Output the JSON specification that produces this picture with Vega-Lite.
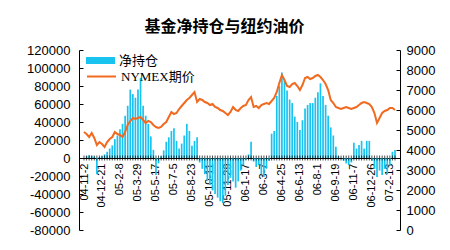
{
"$schema": "https://vega.github.io/schema/vega-lite/v6.json",
"width": 321, "height": 180,
"autosize": {"type": "none"},
"padding": {"left": 79, "top": 50, "right": 50, "bottom": 20},
"background": "white",
"title": {"text": "基金净持仓与纽约油价", "font": "Noto Sans CJK SC", "fontSize": 16, "fontWeight": "bold", "color": "black", "anchor": "middle", "dx": -15, "offset": 9},
"config": {"view": {"stroke": null}, "axis": {"grid": false, "labelFont": "Liberation Sans", "labelColor": "black", "domainColor": "black", "tickColor": "black", "labelFontSize": 13, "title": null, "labelOverlap": false}},
"data": {"values": [
{"date":"2004-11-02","net":0,"price":4900},
{"date":"2004-11-09","net":2000,"price":4800},
{"date":"2004-11-16","net":3000,"price":4650},
{"date":"2004-11-23","net":2500,"price":4850},
{"date":"2004-11-30","net":1500,"price":4600},
{"date":"2004-12-07","net":-18000,"price":4250},
{"date":"2004-12-14","net":1000,"price":4400},
{"date":"2004-12-21","net":2000,"price":4300},
{"date":"2004-12-28","net":4000,"price":4150},
{"date":"2005-01-04","net":7000,"price":4400},
{"date":"2005-01-11","net":10500,"price":4550},
{"date":"2005-01-18","net":14000,"price":4650},
{"date":"2005-01-25","net":21000,"price":4900},
{"date":"2005-02-01","net":25000,"price":4800},
{"date":"2005-02-08","net":32000,"price":4750},
{"date":"2005-02-15","net":38000,"price":4650},
{"date":"2005-02-22","net":47000,"price":4900},
{"date":"2005-03-01","net":58000,"price":5250},
{"date":"2005-03-08","net":76000,"price":5450},
{"date":"2005-03-15","net":71000,"price":5600},
{"date":"2005-03-22","net":67000,"price":5550},
{"date":"2005-03-29","net":76000,"price":5600},
{"date":"2005-04-05","net":89000,"price":5650},
{"date":"2005-04-12","net":58000,"price":5500},
{"date":"2005-04-19","net":47000,"price":5350},
{"date":"2005-04-26","net":38000,"price":5450},
{"date":"2005-05-03","net":24000,"price":5400},
{"date":"2005-05-10","net":9000,"price":5250},
{"date":"2005-05-17","net":-19000,"price":5150},
{"date":"2005-05-24","net":-6000,"price":5100},
{"date":"2005-05-31","net":2000,"price":5150},
{"date":"2005-06-07","net":8500,"price":5300},
{"date":"2005-06-14","net":18000,"price":5400},
{"date":"2005-06-21","net":23000,"price":5650},
{"date":"2005-06-28","net":30000,"price":5900},
{"date":"2005-07-05","net":33000,"price":5800},
{"date":"2005-07-12","net":19000,"price":5850},
{"date":"2005-07-19","net":10500,"price":6050},
{"date":"2005-07-26","net":16000,"price":6200},
{"date":"2005-08-02","net":25000,"price":6350},
{"date":"2005-08-09","net":38000,"price":6500},
{"date":"2005-08-16","net":30000,"price":6600},
{"date":"2005-08-23","net":13500,"price":6750},
{"date":"2005-08-30","net":19000,"price":6900},
{"date":"2005-09-06","net":23000,"price":6400},
{"date":"2005-09-13","net":-5000,"price":6550},
{"date":"2005-09-20","net":-12000,"price":6500},
{"date":"2005-09-27","net":-18000,"price":6400},
{"date":"2005-10-04","net":-25000,"price":6350},
{"date":"2005-10-11","net":-30000,"price":6250},
{"date":"2005-10-18","net":-36000,"price":6300},
{"date":"2005-10-25","net":-40000,"price":6150},
{"date":"2005-11-01","net":-44000,"price":6100},
{"date":"2005-11-08","net":-48000,"price":6000},
{"date":"2005-11-15","net":-50000,"price":5950},
{"date":"2005-11-22","net":-42000,"price":5850},
{"date":"2005-11-29","net":-30000,"price":5750},
{"date":"2005-12-06","net":-22000,"price":5900},
{"date":"2005-12-13","net":-26000,"price":6150},
{"date":"2005-12-20","net":-33000,"price":6000},
{"date":"2005-12-27","net":-26000,"price":5950},
{"date":"2006-01-03","net":-14000,"price":6100},
{"date":"2006-01-10","net":-8000,"price":6200},
{"date":"2006-01-17","net":-2000,"price":6250},
{"date":"2006-01-24","net":4000,"price":6500},
{"date":"2006-01-31","net":18000,"price":6650},
{"date":"2006-02-07","net":-4000,"price":6150},
{"date":"2006-02-14","net":-10000,"price":6200},
{"date":"2006-02-21","net":-8000,"price":6100},
{"date":"2006-02-28","net":-18000,"price":6250},
{"date":"2006-03-07","net":-21000,"price":6300},
{"date":"2006-03-14","net":-12000,"price":6350},
{"date":"2006-03-21","net":-3000,"price":6300},
{"date":"2006-03-28","net":27000,"price":6450},
{"date":"2006-04-04","net":30000,"price":6600},
{"date":"2006-04-11","net":69000,"price":6900},
{"date":"2006-04-18","net":80000,"price":7350},
{"date":"2006-04-25","net":95000,"price":7750},
{"date":"2006-05-02","net":86000,"price":7500},
{"date":"2006-05-09","net":75000,"price":7200},
{"date":"2006-05-16","net":65000,"price":7150},
{"date":"2006-05-23","net":61000,"price":7300},
{"date":"2006-05-30","net":46000,"price":7350},
{"date":"2006-06-06","net":40000,"price":7200},
{"date":"2006-06-13","net":31000,"price":7000},
{"date":"2006-06-20","net":42000,"price":7250},
{"date":"2006-06-27","net":55000,"price":7600},
{"date":"2006-07-04","net":59000,"price":7650},
{"date":"2006-07-11","net":61000,"price":7550},
{"date":"2006-07-18","net":61000,"price":7600},
{"date":"2006-07-25","net":67000,"price":7700},
{"date":"2006-08-01","net":73000,"price":7750},
{"date":"2006-08-08","net":83000,"price":7650},
{"date":"2006-08-15","net":69000,"price":7500},
{"date":"2006-08-22","net":59000,"price":7300},
{"date":"2006-08-29","net":47000,"price":7000},
{"date":"2006-09-05","net":34000,"price":6500},
{"date":"2006-09-12","net":25000,"price":6350},
{"date":"2006-09-19","net":12500,"price":6150},
{"date":"2006-09-26","net":2000,"price":6100},
{"date":"2006-10-03","net":0,"price":6050},
{"date":"2006-10-10","net":-3000,"price":6100},
{"date":"2006-10-17","net":-6000,"price":6150},
{"date":"2006-10-24","net":-8000,"price":6100},
{"date":"2006-10-31","net":-5000,"price":6050},
{"date":"2006-11-07","net":17000,"price":6100},
{"date":"2006-11-14","net":10500,"price":6150},
{"date":"2006-11-21","net":14500,"price":6250},
{"date":"2006-11-28","net":19000,"price":6350},
{"date":"2006-12-05","net":10500,"price":6400},
{"date":"2006-12-12","net":19000,"price":6350},
{"date":"2006-12-19","net":19000,"price":6300},
{"date":"2006-12-26","net":-3000,"price":6150},
{"date":"2007-01-02","net":-12000,"price":5850},
{"date":"2007-01-09","net":-21000,"price":5350},
{"date":"2007-01-16","net":-14000,"price":5600},
{"date":"2007-01-23","net":-19000,"price":5850},
{"date":"2007-01-30","net":-12000,"price":5950},
{"date":"2007-02-06","net":-18000,"price":6000},
{"date":"2007-02-13","net":-8000,"price":6100},
{"date":"2007-02-20","net":7000,"price":6100},
{"date":"2007-02-27","net":9000,"price":6000}
]},
"encoding": {
  "x": {"field": "date", "type": "temporal",
    "scale": {"type": "utc", "nice": false, "domain": [{"year":2004,"month":11,"date":2,"utc":true},{"year":2007,"month":2,"date":27,"utc":true}]},
    "axis": {"orient": "bottom", "offset": -72, "ticks": false, "labelAngle": 270, "labelFontSize": 11, "labelPadding": 5, "labelOverlap": false, "labelFlush": false, "labelBound": false,
      "labelExpr": "utcFormat(datum.value, '%y-%-m-%-d')",
      "values": [
        {"year":2004,"month":11,"date":2,"utc":true},
        {"year":2004,"month":12,"date":21,"utc":true},
        {"year":2005,"month":2,"date":8,"utc":true},
        {"year":2005,"month":3,"date":29,"utc":true},
        {"year":2005,"month":5,"date":17,"utc":true},
        {"year":2005,"month":7,"date":5,"utc":true},
        {"year":2005,"month":8,"date":23,"utc":true},
        {"year":2005,"month":10,"date":11,"utc":true},
        {"year":2005,"month":11,"date":29,"utc":true},
        {"year":2006,"month":1,"date":17,"utc":true},
        {"year":2006,"month":3,"date":7,"utc":true},
        {"year":2006,"month":4,"date":25,"utc":true},
        {"year":2006,"month":6,"date":13,"utc":true},
        {"year":2006,"month":8,"date":1,"utc":true},
        {"year":2006,"month":9,"date":19,"utc":true},
        {"year":2006,"month":11,"date":7,"utc":true},
        {"year":2006,"month":12,"date":26,"utc":true},
        {"year":2007,"month":2,"date":13,"utc":true}
      ]}}
},
"layer": [
  {
    "layer": [
      {"mark": {"type": "bar", "size": 1.7, "clip": true},
       "encoding": {
         "y": {"field": "net", "type": "quantitative",
           "scale": {"domain": [-80000, 120000], "nice": false},
           "axis": {"orient": "left", "values": [-80000,-60000,-40000,-20000,0,20000,40000,60000,80000,100000,120000], "labelExpr": "'' + datum.value", "tickSize": -4, "labelPadding": 13, "labelOverlap": false}},
         "fill": {"datum": "净持仓", "type": "nominal", "scale": {"range": ["#19C3F0"]},
           "legend": {"orient": "none", "legendX": 7, "legendY": -4, "title": null, "padding": 0, "symbolType": "M-1,-0.24H1V0.24H-1Z", "symbolSize": 841, "symbolStrokeWidth": 0, "labelFont": "Noto Sans CJK SC", "labelFontSize": 13, "labelColor": "black", "labelOffset": 4}}
       }},
      {"mark": {"type": "tick", "orient": "vertical", "size": 5, "thickness": 1, "color": "black"},
       "encoding": {"y": {"datum": 0, "type": "quantitative",
           "axis": {"orient": "left", "values": [-80000,-60000,-40000,-20000,0,20000,40000,60000,80000,100000,120000], "labelExpr": "'' + datum.value", "tickSize": -4, "labelPadding": 13, "labelOverlap": false}}}}
    ]
  },
  {"mark": {"type": "line", "strokeWidth": 2},
   "encoding": {
     "y": {"field": "price", "type": "quantitative",
       "scale": {"domain": [0, 9000], "nice": false},
       "axis": {"orient": "right", "values": [0,1000,2000,3000,4000,5000,6000,7000,8000,9000], "labelExpr": "'' + datum.value", "tickSize": -4, "labelPadding": 10, "labelOverlap": false}},
     "stroke": {"datum": "NYMEX期价", "type": "nominal", "scale": {"range": ["#F06A20"]},
       "legend": {"orient": "none", "legendX": 7, "legendY": 11, "title": null, "padding": 0, "symbolType": "stroke", "symbolSize": 841, "symbolStrokeWidth": 2, "labelFont": "Liberation Serif, Noto Sans CJK SC", "labelFontSize": 13, "labelColor": "black", "labelOffset": 4}}
   }}
],
"resolve": {"scale": {"y": "independent", "fill": "independent", "stroke": "independent"}}
}
